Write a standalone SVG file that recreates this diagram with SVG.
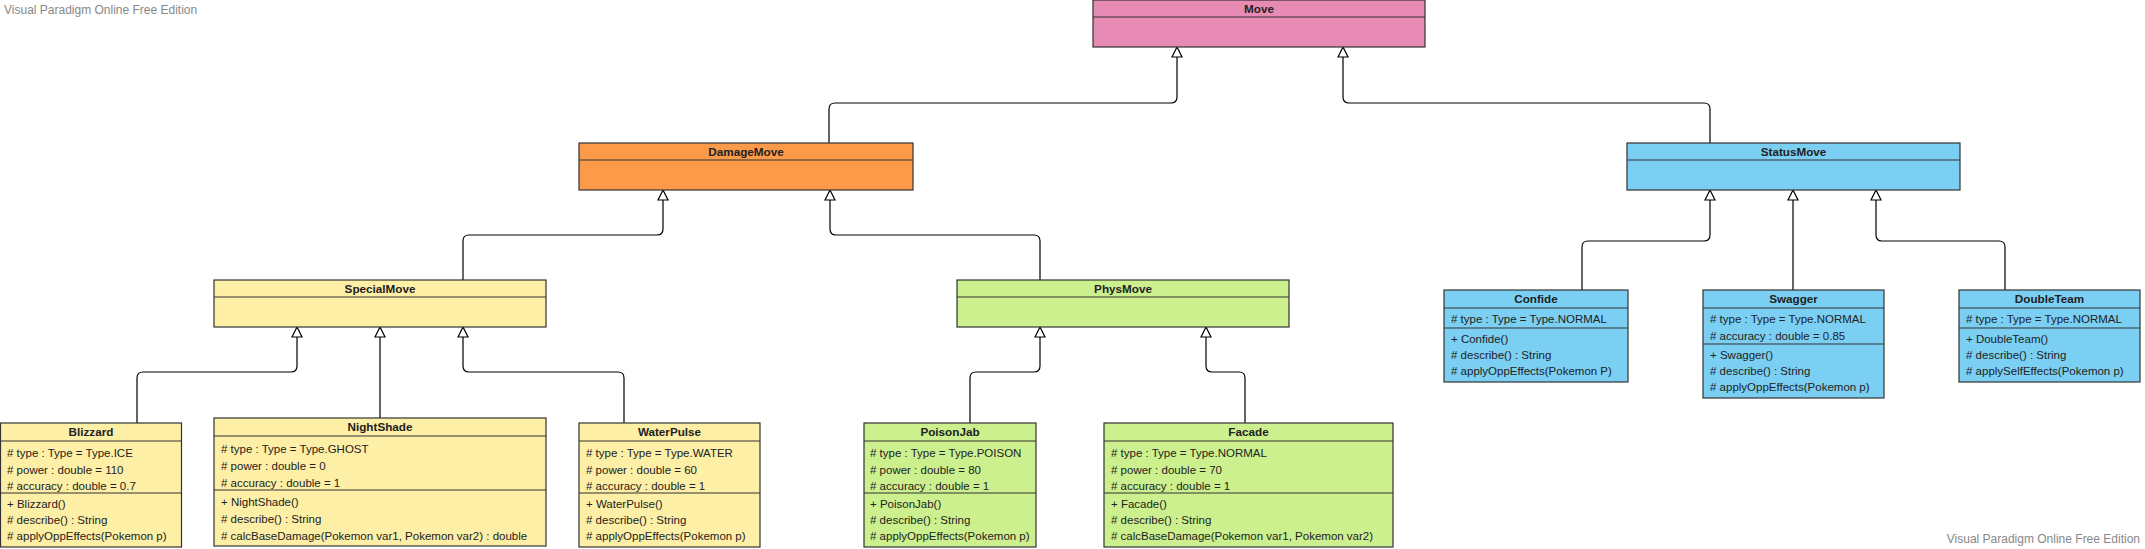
<svg xmlns="http://www.w3.org/2000/svg" width="2145" height="549" viewBox="0 0 2145 549">
<defs>
<style>
.box{stroke:#333;stroke-width:1.2}
.sep{stroke:#333;stroke-width:1.2}
.pink{fill:#E88BB4}.orange{fill:#FB9A48}.blue{fill:#7ACFF3}.yellow{fill:#FEEFA6}.green{fill:#CCF08E}
.hdr{font-family:"Liberation Sans",Arial,sans-serif;font-size:11.7px;font-weight:bold;fill:#222;text-anchor:middle}
.mem{font-family:"Liberation Sans",Arial,sans-serif;font-size:11.5px;fill:#222}
.wm{font-family:"Liberation Sans",Arial,sans-serif;font-size:12px;fill:#888}
.conn{fill:none;stroke:#000;stroke-width:1.2;marker-end:url(#tri)}
</style>
<marker id="tri" viewBox="0 0 12 12" markerWidth="12" markerHeight="12" refX="11" refY="6" orient="auto" markerUnits="userSpaceOnUse">
<path d="M1,1 L11,6 L1,11 Z" fill="#fff" stroke="#000" stroke-width="1.2"/>
</marker>
</defs>
<rect width="2145" height="549" fill="#fff"/>
<text class="wm" x="4" y="14">Visual Paradigm Online Free Edition</text>
<text class="wm" x="2140" y="543" text-anchor="end">Visual Paradigm Online Free Edition</text>

<g id="connectors">
<path class="conn" d="M829,143 V109 Q829,103 835,103 H1171 Q1177,103 1177,97 V47"/>
<path class="conn" d="M1710,143 V109 Q1710,103 1704,103 H1349 Q1343,103 1343,97 V47"/>
<path class="conn" d="M463,280 V241 Q463,235 469,235 H657 Q663,235 663,229 V190"/>
<path class="conn" d="M1040,280 V241 Q1040,235 1034,235 H836 Q830,235 830,229 V190"/>
<path class="conn" d="M1582,290 V247 Q1582,241 1588,241 H1704 Q1710,241 1710,235 V190"/>
<path class="conn" d="M1793,290 V190"/>
<path class="conn" d="M2005,290 V247 Q2005,241 1999,241 H1882 Q1876,241 1876,235 V190"/>
<path class="conn" d="M137,423 V378 Q137,372 143,372 H291 Q297,372 297,366 V327"/>
<path class="conn" d="M380,418 V327"/>
<path class="conn" d="M624,423 V378 Q624,372 618,372 H469 Q463,372 463,366 V327"/>
<path class="conn" d="M970,423 V378 Q970,372 976,372 H1034 Q1040,372 1040,366 V327"/>
<path class="conn" d="M1245,423 V378 Q1245,372 1239,372 H1212 Q1206,372 1206,366 V327"/>
</g>

<g id="Move">
<rect class="box pink" x="1093" y="0" width="332" height="47"/>
<line class="sep" x1="1093" y1="17" x2="1425" y2="17"/>
<text class="hdr" x="1259" y="13">Move</text>
</g>

<g id="DamageMove">
<rect class="box orange" x="579" y="143" width="334" height="47"/>
<line class="sep" x1="579" y1="160" x2="913" y2="160"/>
<text class="hdr" x="746" y="156">DamageMove</text>
</g>

<g id="StatusMove">
<rect class="box blue" x="1627" y="143" width="333" height="47"/>
<line class="sep" x1="1627" y1="160" x2="1960" y2="160"/>
<text class="hdr" x="1793.5" y="156">StatusMove</text>
</g>

<g id="SpecialMove">
<rect class="box yellow" x="214" y="280" width="332" height="47"/>
<line class="sep" x1="214" y1="297" x2="546" y2="297"/>
<text class="hdr" x="380" y="293">SpecialMove</text>
</g>

<g id="PhysMove">
<rect class="box green" x="957" y="280" width="332" height="47"/>
<line class="sep" x1="957" y1="297" x2="1289" y2="297"/>
<text class="hdr" x="1123" y="293">PhysMove</text>
</g>

<g id="Blizzard">
<rect class="box yellow" x="0.5" y="423" width="181" height="124"/>
<line class="sep" x1="0.5" y1="441" x2="181.5" y2="441"/>
<line class="sep" x1="0.5" y1="493" x2="181.5" y2="493"/>
<text class="hdr" x="91" y="436">Blizzard</text>
<text class="mem">
<tspan x="7" y="457"># type : Type = Type.ICE</tspan>
<tspan x="7" y="474"># power : double = 110</tspan>
<tspan x="7" y="490"># accuracy : double = 0.7</tspan>
<tspan x="7" y="508">+ Blizzard()</tspan>
<tspan x="7" y="524"># describe() : String</tspan>
<tspan x="7" y="540"># applyOppEffects(Pokemon p)</tspan>
</text>
</g>

<g id="NightShade">
<rect class="box yellow" x="214" y="418" width="332" height="128"/>
<line class="sep" x1="214" y1="436" x2="546" y2="436"/>
<line class="sep" x1="214" y1="490" x2="546" y2="490"/>
<text class="hdr" x="380" y="431">NightShade</text>
<text class="mem">
<tspan x="221" y="453"># type : Type = Type.GHOST</tspan>
<tspan x="221" y="470"># power : double = 0</tspan>
<tspan x="221" y="487"># accuracy : double = 1</tspan>
<tspan x="221" y="506">+ NightShade()</tspan>
<tspan x="221" y="523"># describe() : String</tspan>
<tspan x="221" y="540"># calcBaseDamage(Pokemon var1, Pokemon var2) : double</tspan>
</text>
</g>

<g id="WaterPulse">
<rect class="box yellow" x="579" y="423" width="181" height="124"/>
<line class="sep" x1="579" y1="441" x2="760" y2="441"/>
<line class="sep" x1="579" y1="493" x2="760" y2="493"/>
<text class="hdr" x="669.5" y="436">WaterPulse</text>
<text class="mem">
<tspan x="586" y="457"># type : Type = Type.WATER</tspan>
<tspan x="586" y="474"># power : double = 60</tspan>
<tspan x="586" y="490"># accuracy : double = 1</tspan>
<tspan x="586" y="508">+ WaterPulse()</tspan>
<tspan x="586" y="524"># describe() : String</tspan>
<tspan x="586" y="540"># applyOppEffects(Pokemon p)</tspan>
</text>
</g>

<g id="PoisonJab">
<rect class="box green" x="864" y="423" width="172" height="124"/>
<line class="sep" x1="864" y1="441" x2="1036" y2="441"/>
<line class="sep" x1="864" y1="493" x2="1036" y2="493"/>
<text class="hdr" x="950" y="436">PoisonJab</text>
<text class="mem">
<tspan x="870" y="457"># type : Type = Type.POISON</tspan>
<tspan x="870" y="474"># power : double = 80</tspan>
<tspan x="870" y="490"># accuracy : double = 1</tspan>
<tspan x="870" y="508">+ PoisonJab()</tspan>
<tspan x="870" y="524"># describe() : String</tspan>
<tspan x="870" y="540"># applyOppEffects(Pokemon p)</tspan>
</text>
</g>

<g id="Facade">
<rect class="box green" x="1104" y="423" width="289" height="124"/>
<line class="sep" x1="1104" y1="441" x2="1393" y2="441"/>
<line class="sep" x1="1104" y1="493" x2="1393" y2="493"/>
<text class="hdr" x="1248.5" y="436">Facade</text>
<text class="mem">
<tspan x="1111" y="457"># type : Type = Type.NORMAL</tspan>
<tspan x="1111" y="474"># power : double = 70</tspan>
<tspan x="1111" y="490"># accuracy : double = 1</tspan>
<tspan x="1111" y="508">+ Facade()</tspan>
<tspan x="1111" y="524"># describe() : String</tspan>
<tspan x="1111" y="540"># calcBaseDamage(Pokemon var1, Pokemon var2)</tspan>
</text>
</g>

<g id="Confide">
<rect class="box blue" x="1444" y="290" width="184" height="92"/>
<line class="sep" x1="1444" y1="308" x2="1628" y2="308"/>
<line class="sep" x1="1444" y1="328" x2="1628" y2="328"/>
<text class="hdr" x="1536" y="303">Confide</text>
<text class="mem">
<tspan x="1451" y="323"># type : Type = Type.NORMAL</tspan>
<tspan x="1451" y="343">+ Confide()</tspan>
<tspan x="1451" y="359"># describe() : String</tspan>
<tspan x="1451" y="375"># applyOppEffects(Pokemon P)</tspan>
</text>
</g>

<g id="Swagger">
<rect class="box blue" x="1703" y="290" width="181" height="108"/>
<line class="sep" x1="1703" y1="308" x2="1884" y2="308"/>
<line class="sep" x1="1703" y1="344" x2="1884" y2="344"/>
<text class="hdr" x="1793.5" y="303">Swagger</text>
<text class="mem">
<tspan x="1710" y="323"># type : Type = Type.NORMAL</tspan>
<tspan x="1710" y="340"># accuracy : double = 0.85</tspan>
<tspan x="1710" y="359">+ Swagger()</tspan>
<tspan x="1710" y="375"># describe() : String</tspan>
<tspan x="1710" y="391"># applyOppEffects(Pokemon p)</tspan>
</text>
</g>

<g id="DoubleTeam">
<rect class="box blue" x="1959" y="290" width="181" height="92"/>
<line class="sep" x1="1959" y1="308" x2="2140" y2="308"/>
<line class="sep" x1="1959" y1="328" x2="2140" y2="328"/>
<text class="hdr" x="2049.5" y="303">DoubleTeam</text>
<text class="mem">
<tspan x="1966" y="323"># type : Type = Type.NORMAL</tspan>
<tspan x="1966" y="343">+ DoubleTeam()</tspan>
<tspan x="1966" y="359"># describe() : String</tspan>
<tspan x="1966" y="375"># applySelfEffects(Pokemon p)</tspan>
</text>
</g>
</svg>
